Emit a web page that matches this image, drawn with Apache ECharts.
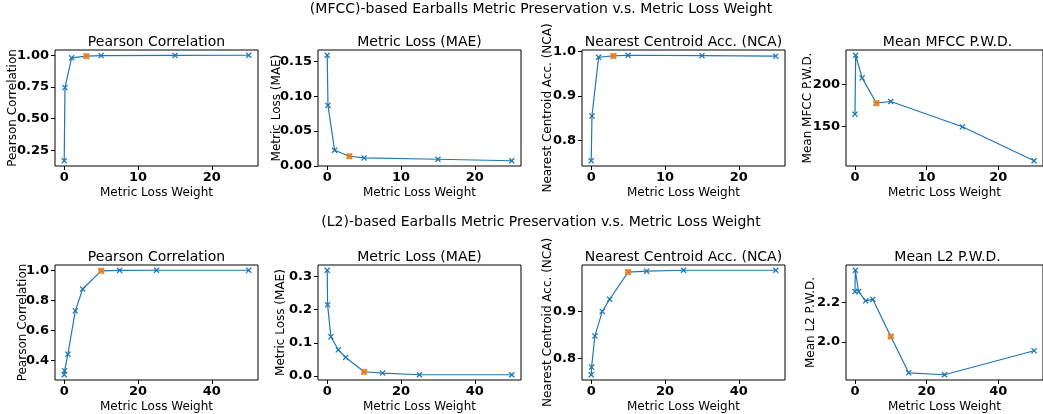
<!DOCTYPE html>
<html lang="en">
<head>
<meta charset="UTF-8">
<title>Earballs metric preservation</title>
<script src="https://cdn.jsdelivr.net/npm/echarts@6/dist/echarts.min.js"></script>
<style>body{margin:0;background:#fff;}</style>
</head>
<body>
<div id="img" style="width:1043px;height:414px;"></div>
<script type="text/javascript">
// weights tried for the metric loss, and the measured metrics for each
var mfccWeights = [0, 0.1, 1, 3, 5, 15, 25];
var mfccPearson = [0.17, 0.745, 0.979, 0.992, 0.997, 0.998, 0.999];
var mfccMae = [0.1586, 0.0867, 0.0224, 0.0138, 0.0114, 0.0095, 0.0074];
var mfccNca = [0.755, 0.855, 0.9866, 0.9896, 0.991, 0.990, 0.989];
var mfccPwd = [164.4, 235.2, 208.0, 177.6, 179.6, 149.2, 108.4];
var mfccChosen = 3; // index of the orange (selected) weight

var l2Weights = [0, 0.1, 1, 3, 5, 10, 15, 25, 50];
var l2Pearson = [0.305, 0.332, 0.442, 0.730, 0.875, 0.996, 0.999, 1.0, 1.0];
var l2Mae = [0.318, 0.214, 0.118, 0.079, 0.056, 0.013, 0.009, 0.004, 0.004];
var l2Nca = [0.7645, 0.781, 0.8475, 0.900, 0.926, 0.984, 0.986, 0.988, 0.988];
var l2Pwd = [2.255, 2.363, 2.255, 2.208, 2.215, 2.027, 1.843, 1.833, 1.955];
var l2Chosen = 5;

var mfccXTicks = [0, 10, 20];
var l2XTicks = [0, 20, 40];

var FONT = 'DejaVu Sans';
var XMARK = 'path://M0,1.5L1.5,0L5,3.5L8.5,0L10,1.5L6.5,5L10,8.5L8.5,10L5,6.5L1.5,10L0,8.5L3.5,5Z';

var panels = [
  {xs: mfccWeights, ys: mfccPearson, best: mfccChosen, title: 'Pearson Correlation', yName: 'Pearson Correlation', yTicks: [0.25, 0.5, 0.75, 1.0], dec: 2, xTicks: mfccXTicks, gap: 36},
  {xs: mfccWeights, ys: mfccMae, best: mfccChosen, title: 'Metric Loss (MAE)', yName: 'Metric Loss (MAE)', yTicks: [0, 0.05, 0.1, 0.15], dec: 2, xTicks: mfccXTicks, gap: 35},
  {xs: mfccWeights, ys: mfccNca, best: mfccChosen, title: 'Nearest Centroid Acc. (NCA)', yName: 'Nearest Centroid Acc. (NCA)', yTicks: [0.8, 0.9, 1.0], dec: 1, xTicks: mfccXTicks, gap: 28},
  {xs: mfccWeights, ys: mfccPwd, best: mfccChosen, title: 'Mean MFCC P.W.D.', yName: 'Mean MFCC P.W.D.', yTicks: [150, 200], dec: 0, xTicks: mfccXTicks, gap: 32},
  {xs: l2Weights, ys: l2Pearson, best: l2Chosen, title: 'Pearson Correlation', yName: 'Pearson Correlation', yTicks: [0.4, 0.6, 0.8, 1.0], dec: 1, xTicks: l2XTicks, gap: 26},
  {xs: l2Weights, ys: l2Mae, best: l2Chosen, title: 'Metric Loss (MAE)', yName: 'Metric Loss (MAE)', yTicks: [0, 0.1, 0.2, 0.3], dec: 1, xTicks: l2XTicks, gap: 31},
  {xs: l2Weights, ys: l2Nca, best: l2Chosen, title: 'Nearest Centroid Acc. (NCA)', yName: 'Nearest Centroid Acc. (NCA)', yTicks: [0.8, 0.9], dec: 1, xTicks: l2XTicks, gap: 28},
  {xs: l2Weights, ys: l2Pwd, best: l2Chosen, title: 'Mean L2 P.W.D.', yName: 'Mean L2 P.W.D.', yTicks: [2.0, 2.2], dec: 1, xTicks: l2XTicks, gap: 29}
];

var lefts = [55, 318, 582, 846];
var tops = [50, 265];
var heights = [116, 115];
var W = 203;

// matplotlib-like 5% margins
function padRange(arr) {
  var lo = Math.min.apply(null, arr), hi = Math.max.apply(null, arr);
  var d = (hi - lo) * 0.05;
  return [lo - d, hi + d];
}

var tickLabel = {fontFamily: FONT, fontWeight: 'bold', fontSize: 13, color: '#000'};
var nameStyle = {fontFamily: FONT, fontSize: 12, color: '#000'};

var grid = [], xAxis = [], yAxis = [], series = [];
var title = [
  {text: '(MFCC)-based Earballs Metric Preservation v.s. Metric Loss Weight', left: 541, top: 2, textAlign: 'center', padding: 0,
   textStyle: {fontFamily: FONT, fontSize: 14, fontWeight: 'normal', color: '#000'}},
  {text: '(L2)-based Earballs Metric Preservation v.s. Metric Loss Weight', left: 541, top: 215, textAlign: 'center', padding: 0,
   textStyle: {fontFamily: FONT, fontSize: 14, fontWeight: 'normal', color: '#000'}}
];

panels.forEach(function (p, i) {
  var row = Math.floor(i / 4), col = i % 4;
  var xr = padRange(p.xs), yr = padRange(p.ys);
  grid.push({left: lefts[col], top: tops[row], width: W, height: heights[row],
    show: true, borderColor: '#000', borderWidth: 1, backgroundColor: 'transparent'});
  title.push({text: p.title, left: lefts[col] + W / 2, top: tops[row] - 15, textAlign: 'center', padding: 0,
    textStyle: {fontFamily: FONT, fontSize: 14, fontWeight: 'normal', color: '#000'}});
  xAxis.push({
    type: 'value', gridIndex: i, min: xr[0], max: xr[1],
    name: 'Metric Loss Weight', nameLocation: 'middle', nameGap: 21, nameTextStyle: nameStyle,
    nameMoveOverlap: false,
    axisLine: {show: false, onZero: false},
    axisTick: {show: true, length: 4, lineStyle: {color: '#000'}, customValues: p.xTicks},
    axisLabel: Object.assign({customValues: p.xTicks, margin: 5}, tickLabel),
    splitLine: {show: false}
  });
  yAxis.push({
    type: 'value', gridIndex: i, min: yr[0], max: yr[1],
    name: p.yName, nameLocation: 'middle', nameGap: p.gap, nameTextStyle: nameStyle,
    nameMoveOverlap: false,
    axisLine: {show: false, onZero: false},
    axisTick: {show: true, length: 4, lineStyle: {color: '#000'}, customValues: p.yTicks},
    axisLabel: Object.assign({customValues: p.yTicks, margin: 6,
      formatter: (function (dec) { return function (v) { return v.toFixed(dec); }; })(p.dec)}, tickLabel),
    splitLine: {show: false}
  });
  series.push({
    type: 'line', xAxisIndex: i, yAxisIndex: i,
    data: p.xs.map(function (x, k) { return [x, p.ys[k]]; }),
    symbol: XMARK, symbolSize: 6, showAllSymbol: true,
    lineStyle: {color: '#1f77b4', width: 1.2},
    itemStyle: {color: '#1f77b4'},
    z: 2
  });
  series.push({
    type: 'scatter', xAxisIndex: i, yAxisIndex: i,
    data: [[p.xs[p.best], p.ys[p.best]]],
    symbol: 'rect', symbolSize: 6,
    itemStyle: {color: '#ff7f0e'},
    z: 3
  });
});

var myChart = echarts.init(document.getElementById('img'));
myChart.setOption({
  animation: false,
  backgroundColor: '#fff',
  title: title,
  grid: grid,
  xAxis: xAxis,
  yAxis: yAxis,
  series: series
});
</script>
</body>
</html>
